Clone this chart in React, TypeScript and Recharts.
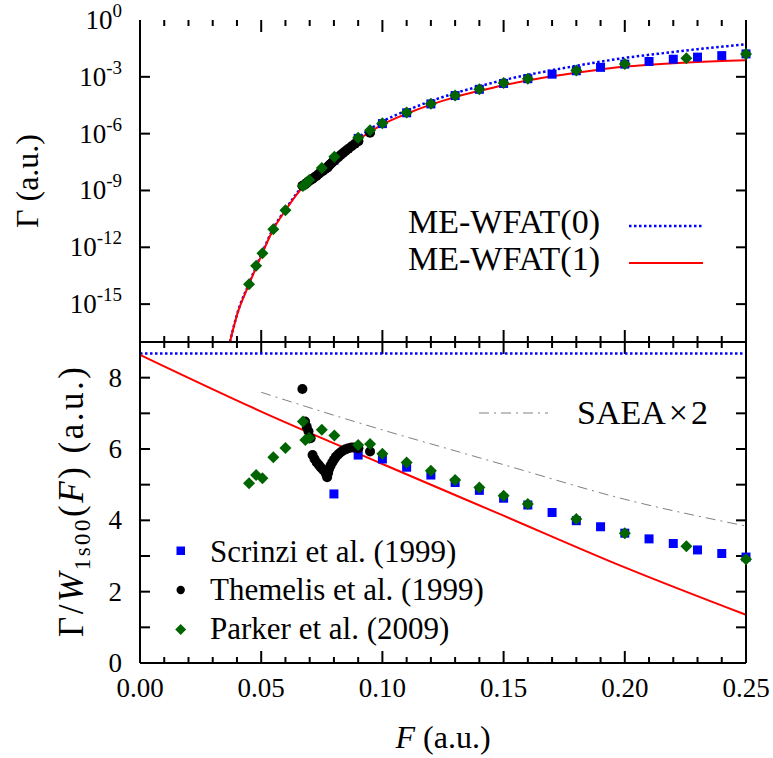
import { ComposedChart, Line, ReferenceLine, Scatter, XAxis, YAxis } from "recharts";

// field strength grid for the model curves (a.u.)
const curveF = [
  0.0371, 0.04, 0.045, 0.05, 0.055, 0.06, 0.065, 0.07, 0.075, 0.08, 0.09, 0.1, 0.11, 0.12,
  0.13, 0.14, 0.15, 0.16, 0.17, 0.18, 0.19, 0.2, 0.21, 0.22, 0.23, 0.24, 0.25
];
// log10 of the rate
const wfat0Exp = [
  -17.0, -15.55, -13.9, -12.4, -11.0, -10.0, -9.1, -8.35, -7.78, -7.22, -6.2, -5.36, -4.78,
  -4.28, -3.86, -3.5, -3.17, -2.9, -2.65, -2.42, -2.2, -2.0, -1.84, -1.69, -1.54, -1.41, -1.28
];
const wfat1Exp = [
  -17.0, -15.58, -13.95, -12.45, -11.05, -10.05, -9.15, -8.42, -7.85, -7.3, -6.32, -5.52,
  -4.95, -4.47, -4.07, -3.74, -3.44, -3.19, -2.97, -2.78, -2.61, -2.46, -2.36, -2.28, -2.22,
  -2.17, -2.13
];

// lower panel curves
const ratioF = [0, 0.05, 0.1, 0.15, 0.2, 0.25];
const wfat1Ratio = [8.64, 7.05, 5.58, 4.13, 2.68, 1.35];
const wfat0F = [0, 0.25];
const wfat0Ratio = [8.68, 8.68];
const saeaF = [0.05, 0.0578, 0.1073, 0.1238, 0.15, 0.2, 0.25];
const saeaRatio = [7.59, 7.42, 6.39, 6.07, 5.56, 4.59, 3.84];

// Scrinzi et al. (1999)
const scrinziF = [
  0.08, 0.09, 0.1, 0.11, 0.12, 0.13, 0.14, 0.15, 0.16, 0.17, 0.18, 0.19, 0.2, 0.21, 0.22,
  0.23, 0.24, 0.25
];
const scrinziExp = [
  -7.4, -6.25, -5.47, -4.9, -4.43, -3.99, -3.66, -3.35, -3.1, -2.86, -2.68, -2.5, -2.33,
  -2.19, -2.07, -1.96, -1.88, -1.79
];
const scrinziRatio = [
  4.74, 5.83, 5.72, 5.49, 5.27, 5.06, 4.84, 4.62, 4.43, 4.22, 3.99, 3.82, 3.64, 3.48, 3.35,
  3.17, 3.07, 2.97
];

// Themelis et al. (1999)
const themelisF = [
  0.067, 0.0681, 0.0688, 0.0695, 0.0704, 0.0712, 0.072, 0.0729, 0.0738, 0.0746, 0.0755,
  0.0763, 0.0768, 0.0772, 0.0776, 0.078, 0.0786, 0.0793, 0.08, 0.0808, 0.0818, 0.0828,
  0.0838, 0.0848, 0.086, 0.0873, 0.0887, 0.0901, 0.0949
];
const themelisExp = [
  -8.75, -8.68, -8.6, -8.52, -8.45, -8.38, -8.3, -8.22, -8.12, -8.04, -7.96, -7.88, -7.83,
  -7.8, -7.74, -7.68, -7.6, -7.52, -7.43, -7.35, -7.24, -7.13, -7.02, -6.92, -6.8, -6.67,
  -6.53, -6.4, -5.95
];
const themelisRatio = [
  7.68, 6.77, 6.62, 6.5, 6.3, 5.83, 5.72, 5.62, 5.55, 5.48, 5.42, 5.36, 5.3, 5.21, 5.33,
  5.44, 5.53, 5.62, 5.7, 5.78, 5.85, 5.91, 5.96, 5.99, 6.02, 6.04, 6.04, 6.02, 5.93
];

// Parker et al. (2009)
const parkerF = [
  0.045, 0.0479, 0.0505, 0.055, 0.06, 0.0672, 0.0682, 0.0698, 0.075, 0.0802, 0.09, 0.0949,
  0.1, 0.11, 0.12, 0.13, 0.14, 0.15, 0.16, 0.18, 0.2, 0.2254, 0.25
];
const parkerExp = [
  -13.95, -12.98, -12.32, -11.05, -10.05, -8.76, -8.68, -8.45, -7.82, -7.22, -6.22, -5.82,
  -5.45, -4.88, -4.42, -3.98, -3.65, -3.33, -3.1, -2.66, -2.32, -2.02, -1.8
];
const parkerRatio = [
  5.04, 5.27, 5.18, 5.77, 6.03, 6.77, 6.25, 6.31, 6.54, 6.38, 6.11, 6.14, 5.87, 5.62, 5.39,
  5.13, 4.92, 4.69, 4.46, 4.04, 3.64, 3.27, 2.91
];

// axis ticks
const xMajorTicks = [0, 0.05, 0.1, 0.15, 0.2, 0.25];
const xMinorTicks = [
  0.01, 0.02, 0.03, 0.04, 0.06, 0.07, 0.08, 0.09, 0.11, 0.12, 0.13, 0.14, 0.16, 0.17, 0.18,
  0.19, 0.21, 0.22, 0.23, 0.24
];
const rateTicks = [1e-15, 1e-12, 1e-9, 1e-6, 1e-3];
const ratioTicks = [1, 2, 3, 4, 5, 6, 7, 8];

const serif = "'Liberation Serif', serif";
const BLUE = "#0000ff";
const RED = "#ff0000";
const GREEN = "#006400";
const frame = { stroke: "#000", strokeWidth: 2 };

// plot box is 606 px wide; upper panel 322 px tall (17 decades), lower 321 px (0..9)
const fPerPx = 0.25 / 606;
const decPerPx = 17 / 322;
const ratioPerPx = 9 / 321;

function toRate(fs: number[], exps: number[]) {
  return fs.map((F, i) => ({ F, G: Math.pow(10, exps[i]) }));
}

function toRatio(fs: number[], vals: number[]) {
  return fs.map((F, i) => ({ F, R: vals[i] }));
}

function xLabel(props: any) {
  const v = props.payload.value;
  return (
    <text x={props.x} y={Number(props.y) + 34} textAnchor="middle" fontFamily={serif} fontSize={27} fill="#000">
      {v.toFixed(2)}
    </text>
  );
}

function rateLabel(props: any) {
  const exp = Math.round(Math.log10(props.payload.value));
  return (
    <text x={Number(props.x) - 18} y={Number(props.y) + 9} textAnchor="end" fontFamily={serif} fontSize={27} fill="#000">
      <tspan>10</tspan>
      <tspan dy={-12} fontSize={19}>
        {exp}
      </tspan>
    </text>
  );
}

function ratioLabel(props: any) {
  const v = props.payload.value;
  return (
    <text x={Number(props.x) - 18} y={Number(props.y) + 9} textAnchor="end" fontFamily={serif} fontSize={27} fill="#000">
      {v % 2 === 0 ? v : ""}
    </text>
  );
}

// inward tick marks as short segments along the frame
function xTickMarks(bottom: (len: number) => [number, number], top: (len: number) => [number, number]) {
  const marks: any[] = [];
  [...xMajorTicks, ...xMinorTicks].forEach((x) => {
    const len = xMajorTicks.includes(x) ? 12 : 6;
    const b = bottom(len);
    const t = top(len);
    marks.push(
      <ReferenceLine key={`b${x}`} segment={[{ x, y: b[0] }, { x, y: b[1] }]} stroke="#000" strokeWidth={2} ifOverflow="visible" />,
      <ReferenceLine key={`t${x}`} segment={[{ x, y: t[0] }, { x, y: t[1] }]} stroke="#000" strokeWidth={2} ifOverflow="visible" />
    );
  });
  return marks;
}

function yTickMarks(values: number[]) {
  const len = 10 * fPerPx;
  return values.flatMap((y) => [
    <ReferenceLine key={`l${y}`} segment={[{ x: 0, y }, { x: len, y }]} stroke="#000" strokeWidth={2} ifOverflow="visible" />,
    <ReferenceLine key={`r${y}`} segment={[{ x: 0.25 - len, y }, { x: 0.25, y }]} stroke="#000" strokeWidth={2} ifOverflow="visible" />
  ]);
}

const squareShape = (p: any) => (
  <rect x={p.cx - 4.5} y={p.cy - 4.5} width={9} height={9} fill={BLUE} />
);
const circleShape = (p: any) => <circle cx={p.cx} cy={p.cy} r={5} fill="#000" />;
const diamondShape = (p: any) => (
  <polygon
    points={`${p.cx},${p.cy - 6} ${p.cx + 6},${p.cy} ${p.cx},${p.cy + 6} ${p.cx - 6},${p.cy}`}
    fill={GREEN}
  />
);

function RatePanel() {
  return (
    <ComposedChart width={773} height={350} margin={{ top: 20, right: 0, bottom: 0, left: 0 }}>
      <XAxis type="number" dataKey="F" domain={[0, 0.25]} ticks={xMajorTicks} interval={0} height={8}
        tickSize={0} tickMargin={0} tickLine={false} axisLine={frame} tick={false} />
      <XAxis xAxisId="top" orientation="top" type="number" domain={[0, 0.25]} ticks={xMajorTicks}
        interval={0} height={0} tickSize={0} tickMargin={0} tickLine={false} axisLine={frame} tick={false} />
      <YAxis type="number" dataKey="G" scale="log" domain={[1e-17, 1]} ticks={[...rateTicks, 1]} interval={0}
        width={140} tickSize={0} tickMargin={0} tickLine={false} axisLine={frame} tick={rateLabel} />
      <YAxis yAxisId="right" orientation="right" type="number" scale="log" domain={[1e-17, 1]}
        ticks={rateTicks} interval={0} width={27} tickSize={0} tickLine={false} axisLine={frame} tick={false} />
      {xTickMarks(
        (len) => [1e-17, Math.pow(10, -17 + len * decPerPx)],
        (len) => [1, Math.pow(10, -len * decPerPx)]
      )}
      {yTickMarks(rateTicks)}
      <Scatter data={toRate(scrinziF, scrinziExp)} dataKey="G" shape={squareShape} isAnimationActive={false} />
      <Scatter data={toRate(themelisF, themelisExp)} dataKey="G" shape={circleShape} isAnimationActive={false} />
      <Scatter data={toRate(parkerF, parkerExp)} dataKey="G" shape={diamondShape} isAnimationActive={false} />
      <Line
        data={toRate(curveF, wfat0Exp)}
        dataKey="G"
        type="monotone"
        stroke={BLUE}
        strokeWidth={2.5}
        strokeDasharray="2.5 2.5"
        dot={false}
        isAnimationActive={false}
      />
      <Line
        data={toRate(curveF, wfat1Exp)}
        dataKey="G"
        type="monotone"
        stroke={RED}
        strokeWidth={2}
        dot={false}
        isAnimationActive={false}
      />
    </ComposedChart>
  );
}

function RatioPanel() {
  return (
    <ComposedChart width={773} height={416} margin={{ top: 0, right: 0, bottom: 0, left: 0 }}>
      <XAxis type="number" dataKey="F" domain={[0, 0.25]} ticks={xMajorTicks} interval={0} height={95}
        tickSize={0} tickMargin={0} tickLine={false} axisLine={frame} tick={xLabel} />
      <XAxis xAxisId="top" orientation="top" type="number" domain={[0, 0.25]} ticks={xMajorTicks}
        interval={0} height={0} tickSize={0} tickMargin={0} tickLine={false} axisLine={frame} tick={false} />
      <YAxis type="number" dataKey="R" domain={[0, 9]} ticks={[0, ...ratioTicks]} interval={0} width={140}
        tickSize={0} tickMargin={0} tickLine={false} axisLine={frame} tick={ratioLabel} />
      <YAxis yAxisId="right" orientation="right" type="number" domain={[0, 9]} ticks={ratioTicks}
        interval={0} width={27} tickSize={0} tickLine={false} axisLine={frame} tick={false} />
      {xTickMarks(
        (len) => [0, len * ratioPerPx],
        (len) => [9, 9 - len * ratioPerPx]
      )}
      {yTickMarks(ratioTicks)}
      <Line
        data={toRatio(saeaF, saeaRatio)}
        dataKey="R"
        type="monotone"
        stroke="#808080"
        strokeWidth={1}
        strokeDasharray="10 5 2 5"
        dot={false}
        isAnimationActive={false}
      />
      <Scatter data={toRatio(scrinziF, scrinziRatio)} dataKey="R" shape={squareShape} isAnimationActive={false} />
      <Scatter data={toRatio(themelisF, themelisRatio)} dataKey="R" shape={circleShape} isAnimationActive={false} />
      <Scatter data={toRatio(parkerF, parkerRatio)} dataKey="R" shape={diamondShape} isAnimationActive={false} />
      <Line
        data={toRatio(wfat0F, wfat0Ratio)}
        dataKey="R"
        stroke={BLUE}
        strokeWidth={2.5}
        strokeDasharray="2.5 2.5"
        dot={false}
        isAnimationActive={false}
      />
      <Line
        data={toRatio(ratioF, wfat1Ratio)}
        dataKey="R"
        type="monotone"
        stroke={RED}
        strokeWidth={2}
        dot={false}
        isAnimationActive={false}
      />
    </ComposedChart>
  );
}

function Overlay() {
  const txt = { fontFamily: serif, fill: "#000" };
  return (
    <svg width={773} height={758} style={{ position: "absolute", left: 0, top: 0, pointerEvents: "none" }}>
      <text {...txt} fontSize={32} x={38} y={181} textAnchor="middle" transform="rotate(-90 38 181)">
        Γ (a.u.)
      </text>
      <text
        {...txt}
        fontSize={35}
        x={367}
        y={83}
        textLength={270}
        lengthAdjust="spacing"
        transform="rotate(-90) translate(-1004 0)"
      >
        Γ/<tspan fontStyle="italic">W</tspan>
        <tspan fontSize={23} dy={7}>
          1s00
        </tspan>
        <tspan dy={-7}>(</tspan>
        <tspan fontStyle="italic">F</tspan>) (a.u.)
      </text>
      <text {...txt} fontSize={32} x={443} y={748} textAnchor="middle">
        <tspan fontStyle="italic">F</tspan> (a.u.)
      </text>

      <text {...txt} fontSize={34} x={600} y={233} textAnchor="end">
        ME-WFAT(0)
      </text>
      <line x1={629} x2={703} y1={226} y2={226} stroke={BLUE} strokeWidth={2.5} strokeDasharray="2.5 2.5" />
      <text {...txt} fontSize={34} x={600} y={270} textAnchor="end">
        ME-WFAT(1)
      </text>
      <line x1={629} x2={703} y1={263} y2={263} stroke={RED} strokeWidth={2} />

      <line x1={479} x2={548} y1={413} y2={413} stroke="#808080" strokeWidth={1} strokeDasharray="10 5 2 5" />
      <text {...txt} fontSize={34} x={577} y={424}>
        SAEA<tspan dx={3}>×</tspan>
        <tspan dx={3}>2</tspan>
      </text>

      <rect x={176.5} y={546.5} width={8.5} height={8.5} fill={BLUE} />
      <text {...txt} fontSize={31} x={210} y={562}>
        Scrinzi et al. (1999)
      </text>
      <circle cx={180.7} cy={590} r={4.2} fill="#000" />
      <text {...txt} fontSize={31} x={210} y={600}>
        Themelis et al. (1999)
      </text>
      <polygon points="180.7,624 186.2,629.5 180.7,635 175.2,629.5" fill={GREEN} />
      <text {...txt} fontSize={31} x={210} y={639}>
        Parker et al. (2009)
      </text>
    </svg>
  );
}

export default function App() {
  return (
    <div style={{ position: "absolute", left: 0, top: 0, width: 773, height: 758, background: "#fff" }}>
      <div style={{ position: "absolute", left: 0, top: 0 }}>
        <RatePanel />
      </div>
      <div style={{ position: "absolute", left: 0, top: 342 }}>
        <RatioPanel />
      </div>
      <Overlay />
    </div>
  );
}
